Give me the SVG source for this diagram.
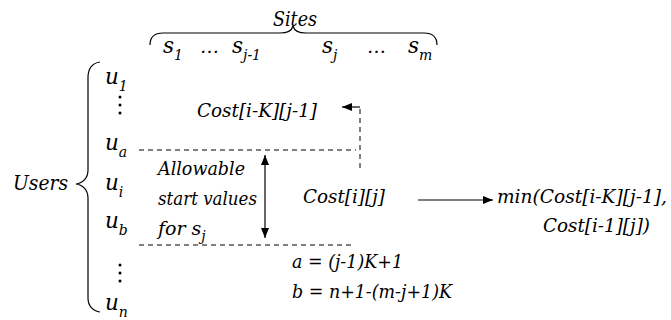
<svg xmlns="http://www.w3.org/2000/svg" width="671" height="320" viewBox="0 0 671 320" font-family="DejaVu Serif" font-style="italic">
<defs>
<style>
text{fill:#000}
.big{font-size:21.5px}
.lbl{font-size:21px}
.t{font-size:19px}
.sub{font-size:14px}
.brace{fill:none;stroke:#000;stroke-width:1.2}
.dash{fill:none;stroke:#000;stroke-width:1;stroke-dasharray:5,4}
.solid{fill:none;stroke:#000;stroke-width:1.2}
</style>
<marker id="ah" viewBox="0 0 10 8" refX="10" refY="4" markerWidth="10" markerHeight="8" markerUnits="userSpaceOnUse" orient="auto-start-reverse">
<path d="M0,0 L10,4 L0,8 Z" fill="#000"/>
</marker>
</defs>
<rect width="671" height="320" fill="#fff"/>

<g id="sites">
<text class="lbl" x="273" y="26" textLength="44" lengthAdjust="spacingAndGlyphs">Sites</text>
<path class="brace" d="M150,45 C150,37 155,33 163,33 L280,33 C288,33 292,30 293,26 C294,30 298,33 306,33 L424,33 C432,33 437,37 437,45"/>
<text class="big" x="163" y="53">s<tspan class="sub" dy="7">1</tspan></text>
<text class="t" x="200" y="53">…</text>
<text class="big" x="232" y="53">s<tspan class="sub" dy="7">j-1</tspan></text>
<text class="big" x="322" y="53">s<tspan class="sub" dy="7">j</tspan></text>
<text class="t" x="367" y="53">…</text>
<text class="big" x="408" y="53">s<tspan class="sub" dy="7">m</tspan></text>
</g>

<g id="users">
<text class="lbl" x="13" y="190" textLength="55" lengthAdjust="spacingAndGlyphs">Users</text>
<path class="brace" d="M100,62 C93,63 88,68 88,78 L88,170 C88,178 83,183 76,184 C83,185 88,190 88,198 L88,298 C88,306 93,311 100,312"/>
<text class="big" x="105" y="84">u<tspan class="sub" dy="7">1</tspan></text>
<g id="vdots1"><circle cx="120" cy="97" r="1.5"/><circle cx="120" cy="105" r="1.5"/><circle cx="120" cy="113" r="1.5"/></g>
<text class="big" x="105" y="150">u<tspan class="sub" dy="7">a</tspan></text>
<text class="big" x="105" y="190">u<tspan class="sub" dy="7">i</tspan></text>
<text class="big" x="105" y="228">u<tspan class="sub" dy="7">b</tspan></text>
<g id="vdots2"><circle cx="120" cy="265" r="1.5"/><circle cx="120" cy="273" r="1.5"/><circle cx="120" cy="281" r="1.5"/></g>
<text class="big" x="105" y="310">u<tspan class="sub" dy="7">n</tspan></text>
</g>

<g id="costprev"><text class="t" x="197" y="117" textLength="120" lengthAdjust="spacingAndGlyphs">Cost[i-K][j-1]</text></g>
<g id="allowable">
<text class="t" x="158" y="175" textLength="87" lengthAdjust="spacingAndGlyphs">Allowable</text>
<text class="t" x="158" y="205" textLength="99" lengthAdjust="spacingAndGlyphs">start values</text>
<text class="t" x="158" y="235">for s<tspan class="sub" dy="6">j</tspan></text>
</g>
<g id="costij"><text class="t" x="303" y="203" textLength="82" lengthAdjust="spacingAndGlyphs">Cost[i][j]</text></g>
<g id="minexpr">
<text class="t" x="497" y="203" textLength="170" lengthAdjust="spacingAndGlyphs">min(Cost[i-K][j-1],</text>
<text class="t" x="543" y="232" textLength="107" lengthAdjust="spacingAndGlyphs">Cost[i-1][j])</text>
</g>
<g id="formulas">
<text class="t" x="292" y="268" textLength="111" lengthAdjust="spacingAndGlyphs">a = (j-1)K+1</text>
<text class="t" x="292" y="298" textLength="160" lengthAdjust="spacingAndGlyphs">b = n+1-(m-j+1)K</text>
</g>

<g id="connectors">
<line class="dash" x1="139" y1="150" x2="356" y2="150"/>
<line class="dash" x1="139" y1="245" x2="352" y2="245"/>
<polyline class="dash" points="360,168 360,107"/>
<line class="solid" x1="360" y1="107" x2="342" y2="107" marker-end="url(#ah)"/>
<line class="solid" x1="265" y1="155" x2="265" y2="238" marker-start="url(#ah)" marker-end="url(#ah)"/>
<line class="solid" x1="418" y1="200" x2="493" y2="200" marker-end="url(#ah)"/>
</g>
</svg>
